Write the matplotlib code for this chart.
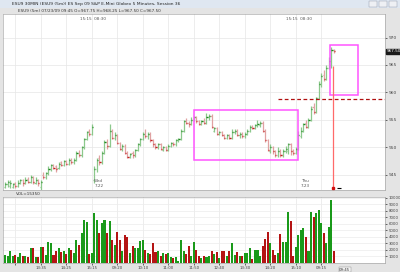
import numpy as np
import matplotlib
matplotlib.use("Agg")
import matplotlib.pyplot as plt
from matplotlib.patches import Rectangle

# --- DATA: ESU9 5 min bars, Tue 7.21 afternoon -> Thu 7.23 morning ---
opens = [942.75, 943.25, 943.0, 942.75, 943.5, 943.0, 943.5, 944.0, 943.5, 944.25,
         943.75, 944.5, 943.5, 944.0, 942.75, 945.0, 944.5, 945.25, 946.0, 946.75,
         946.5, 946.25, 947.25, 946.75, 947.5, 947.0, 947.75, 947.25, 947.75, 949.0,
         948.5, 950.0, 951.5, 953.0, 952.5,
         944.0, 946.0, 948.0, 947.25, 949.0, 951.0, 950.25, 953.0, 951.75, 952.25,
         950.75, 949.75, 950.25, 949.0, 948.25, 949.0, 948.5, 949.5, 950.5, 951.5,
         952.5, 952.0, 952.5, 951.25, 950.5, 950.0, 950.5, 949.5, 950.0, 949.5,
         950.25, 950.75, 950.5, 951.25, 951.5, 953.0, 954.75, 954.5, 954.25, 955.0,
         955.5, 954.75, 954.25, 954.75, 954.5, 955.5, 955.75, 953.0, 953.5, 952.5,
         952.75, 952.25, 951.75, 952.25, 951.75, 952.75, 953.0, 952.25, 952.5, 952.0,
         952.5, 953.0, 953.75, 953.5, 954.0, 954.0, 954.5, 953.0, 951.25, 949.25,
         950.0, 949.25, 948.5, 949.25, 948.5, 949.25, 949.25, 950.5, 949.25, 949.0,
         949.75,
         952.0, 953.0, 954.5, 953.75, 955.0, 957.25, 956.5, 959.0, 961.5, 963.25,
         962.5, 964.5, 965.0, 967.75]
highs = [943.75, 944.0, 944.0, 943.5, 943.75, 944.0, 944.25, 944.25, 944.5, 944.5,
         945.0, 944.75, 944.5, 944.25, 944.0, 945.5, 945.5, 946.5, 947.0, 947.0,
         946.75, 947.25, 947.5, 947.75, 947.75, 948.0, 948.0, 948.0, 949.25, 949.5,
         950.25, 951.75, 953.0, 953.25, 954.25,
         946.5, 948.0, 948.5, 949.25, 951.25, 951.5, 954.25, 953.25, 952.75, 952.5,
         951.0, 950.5, 950.5, 949.25, 949.0, 949.25, 949.75, 950.75, 951.75, 952.75,
         953.25, 952.75, 952.75, 951.5, 950.75, 950.75, 950.75, 950.25, 950.25, 950.5,
         951.0, 951.0, 951.5, 951.75, 953.25, 955.0, 955.25, 954.75, 955.5, 955.75,
         955.75, 955.0, 955.0, 955.25, 956.25, 956.0, 956.0, 953.75, 953.75, 953.0,
         953.0, 952.5, 952.5, 952.5, 953.25, 953.25, 953.25, 952.75, 952.75, 952.75,
         953.25, 954.0, 954.0, 954.25, 955.0, 954.75, 954.75, 953.25, 951.5, 950.5,
         950.25, 949.5, 950.0, 949.75, 949.75, 950.25, 950.75, 950.75, 949.75, 950.0,
         953.0,
         953.75, 954.5, 955.0, 955.25, 957.5, 958.0, 959.25, 962.0, 963.5, 964.0,
         965.0, 966.5, 968.25, 968.0]
lows = [942.5, 942.75, 942.5, 942.5, 942.5, 942.75, 943.25, 943.0, 943.25, 943.5,
        943.5, 943.25, 943.25, 943.0, 942.25, 944.25, 944.25, 945.0, 945.75, 946.0,
        945.5, 946.0, 946.5, 946.5, 946.75, 946.75, 947.0, 947.0, 947.5, 948.25,
        948.25, 949.75, 951.25, 952.0, 952.25,
        943.5, 945.5, 946.75, 947.0, 948.75, 949.75, 950.0, 951.5, 951.25, 950.5,
        949.5, 949.25, 948.75, 948.0, 948.0, 948.0, 948.25, 949.25, 950.25, 951.25,
        951.75, 951.5, 951.0, 950.0, 949.75, 949.75, 949.5, 949.25, 949.25, 949.25,
        950.0, 950.25, 950.25, 951.0, 951.25, 952.75, 954.25, 953.75, 954.0, 954.75,
        954.5, 954.0, 954.0, 954.25, 954.25, 955.0, 953.5, 952.75, 952.25, 952.25,
        952.0, 951.5, 951.5, 951.5, 951.5, 952.5, 952.0, 951.75, 951.75, 951.75,
        952.25, 952.75, 953.25, 953.25, 953.75, 953.75, 952.75, 951.0, 949.25, 949.0,
        948.75, 948.25, 948.25, 948.25, 948.25, 949.0, 948.75, 948.5, 948.5, 948.75,
        949.5,
        951.75, 952.75, 953.5, 953.5, 954.75, 956.0, 956.25, 958.75, 961.0, 962.0,
        962.25, 964.25, 964.5, 967.25]
closes = [943.25, 943.75, 943.5, 943.25, 943.0, 943.5, 944.0, 943.5, 944.0, 943.75,
          944.5, 943.75, 944.0, 943.5, 943.75, 944.5, 945.25, 946.0, 946.75, 946.25,
          946.0, 947.0, 946.75, 947.5, 947.0, 947.75, 947.25, 947.75, 949.0, 948.5,
          950.0, 951.5, 952.75, 952.5, 953.75,
          946.0, 947.75, 947.25, 949.0, 951.0, 950.25, 953.0, 951.75, 952.25, 950.75,
          949.75, 950.25, 949.0, 948.25, 948.75, 948.5, 949.5, 950.5, 951.5, 952.5,
          952.0, 952.5, 951.25, 950.5, 950.0, 950.5, 949.75, 950.0, 949.5, 950.25,
          950.75, 950.5, 951.25, 951.5, 953.0, 954.75, 954.5, 954.25, 955.0, 955.5,
          954.75, 954.25, 954.75, 954.5, 955.5, 955.75, 953.75, 953.5, 952.5, 952.75,
          952.25, 951.75, 952.25, 951.75, 952.75, 953.0, 952.25, 952.5, 952.0, 952.5,
          953.0, 953.75, 953.5, 954.0, 954.25, 954.5, 953.0, 951.25, 949.5, 950.0,
          949.25, 948.5, 949.25, 948.5, 949.25, 949.75, 950.5, 949.25, 949.0, 949.75,
          952.25,
          953.0, 954.25, 953.75, 955.0, 957.0, 956.5, 959.0, 961.5, 963.0, 962.5,
          964.5, 965.75, 967.75, 967.5]
volumes = [1250, 1000, 1900, 1100, 1250, 900, 1500, 1000, 1100, 900,
           2250, 2250, 900, 900, 2500, 2500, 1250, 3250, 3100, 1250,
           1900, 2250, 1750, 1900, 1400, 2250, 2000, 1500, 3600, 2750,
           4600, 6600, 6250, 1400, 1600,
           7650, 6600, 4650, 6100, 6600, 4650, 6500, 3600, 2750, 4750,
           3600, 1900, 4350, 4000, 1600, 2650, 2250, 2250, 3350, 3500,
           2000, 1600, 1400, 3100, 1750, 1900, 1000, 1600, 1400, 1600,
           900, 750, 900, 350, 3600, 1900, 1400, 2600, 1000, 3250,
           2000, 1000, 750, 1000, 900, 1000, 1850, 1400, 1750, 750,
           1900, 1850, 1000, 1900, 3100, 1250, 1750, 1100, 1000, 1500,
           1500, 2250, 650, 2000, 2000, 1000, 2600, 3750, 4750, 3000,
           2000, 1250, 1600, 4500, 3250, 3250, 7900, 6400, 1000, 2500,
           4250,
           5100, 5400, 4000, 1900, 7900, 7150, 7750, 8150, 6100, 4600,
           3100, 5500, 9650, 1900]

price_ticks = [945, 950, 955, 960, 965, 970]
vol_ticks = [1000, 2000, 3000, 4000, 5000, 6000, 7000, 8000, 9000, 10000]
time_pos = [4, 14, 24, 34, 44, 54, 64, 74, 84, 94, 104, 114, 124]
time_labels = ["", "13:35", "14:25", "15:15", "09:20", "10:10", "11:00",
               "11:50", "12:40", "13:30", "14:20", "15:10", "09:15"]
day_pos = [35, 116]
day_labels = ["Wed\n7.22", "Thu\n7.23"]

# boxes / levels drawn on the chart (bar index, price)
box1 = (74, 115, 947.6, 956.7)
box2 = (127.5, 138.4, 959.6, 968.7)
level = 958.75
sell_line = (128.5, 942.3, 964.9)

x = np.arange(len(closes))
o = np.array(opens); h = np.array(highs); l = np.array(lows); c = np.array(closes)
up = c >= o

fig = plt.figure(figsize=(4, 2.72), dpi=100)
fig.patch.set_facecolor("#e4e4e4")

# title strip + window buttons
fig.patches.append(Rectangle((0, 1 - 7.5 / 272), 1, 7.5 / 272, transform=fig.transFigure,
                             facecolor="#dfe7f1", edgecolor="none"))
for bx in [369, 379, 389]:
    fig.patches.append(Rectangle((bx / 400, 1 - 6.5 / 272), 8 / 400, 5.5 / 272,
                                 transform=fig.transFigure, facecolor="#eef0f4",
                                 edgecolor="#8a94a6", lw=0.3))
fig.text(0.03, 1 - 4 / 272, "ESU9 30MIN (ESU9 (5m)) ES Sep 09 S&P E-Mini Globex 5 Minutes, Session 36",
         fontsize=3.2, va="center", color="#222")
fig.text(0.045, 1 - 11 / 272, "ESU9 (5m) 07/23/09 09:45 O=967.75 H=968.25 L=967.50 C=967.50",
         fontsize=3.0, va="center", color="#333")

# --- PRICE PANEL ---
ax = fig.add_axes([3 / 400, 1 - 190 / 272, 382 / 400, 176 / 272])
ax.set_facecolor("white")
ax.set_xlim(-0.8, 149)
ax.set_ylim(942.2, 974.3)
for t in time_pos:
    ax.axvline(t, color="#e6e6e6", lw=0.5, zorder=0)
for p in price_ticks:
    ax.axhline(p, color="#e6e6e6", lw=0.5, zorder=0)

light = np.where(up, "#8cc88c", "#e0a2a2")
dark = np.where(up, "#1f8a1f", "#c62020")
ax.vlines(x, l, h, colors=light, lw=0.9, zorder=2)
ax.hlines(o, x - 0.45, x, colors=light, lw=0.9, zorder=2)
ax.hlines(c, x, x + 0.45, colors=dark, lw=1.0, zorder=3)

ax.add_patch(Rectangle((box1[0], box1[2]), box1[1] - box1[0], box1[3] - box1[2],
                       fill=False, edgecolor="#ff55ff", lw=1.1, zorder=4))
ax.add_patch(Rectangle((box2[0], box2[2]), box2[1] - box2[0], box2[3] - box2[2],
                       fill=False, edgecolor="#ff55ff", lw=1.1, zorder=4))
ax.hlines(level, 107, 149, colors="#b01010", lw=0.9, linestyles=(0, (3, 2)), zorder=4)
ax.vlines(sell_line[0], sell_line[1], sell_line[2], colors="#ff6a6a", lw=0.9, zorder=4)
ax.plot([sell_line[0]], [942.6], marker="s", ms=1.6, color="#d01010", zorder=5)
ax.hlines(942.5, 130.2, 131.6, colors="black", lw=0.8, zorder=5)

ax.yaxis.tick_right()
ax.set_yticks(price_ticks)
ax.set_yticklabels([str(p) for p in price_ticks], fontsize=3.2, color="#444")
ax.tick_params(axis="y", length=1.5, width=0.4, pad=1)
ax.set_xticks([])
for s in ax.spines.values():
    s.set_linewidth(0.4)
    s.set_color("#999")
for pos, lab in zip(day_pos, day_labels):
    ax.text(pos, 942.6, lab, fontsize=3.0, color="#555", va="bottom", ha="left")
for pos in [34.3, 115.3]:
    ax.text(pos, 973.8, "15:15  08:30", fontsize=3.0, color="#555", va="top", ha="center")
ax.text(149.5, closes[-1], "967.50", fontsize=3.0, color="white", va="center", ha="left",
        clip_on=False, bbox=dict(boxstyle="square,pad=0.15", fc="#1a1a1a", ec="#1a1a1a"))

# separator label
fig.text(0.04, 1 - 194 / 272, "VOL=15350", fontsize=3.0, va="center", color="#333")

# --- VOLUME PANEL ---
vx = fig.add_axes([3 / 400, 1 - 263 / 272, 382 / 400, 66 / 272])
vx.set_facecolor("white")
vx.set_xlim(-0.8, 149)
vx.set_ylim(0, 10150)
for t in time_pos:
    vx.axvline(t, color="#e6e6e6", lw=0.5, zorder=0)
for v in vol_ticks:
    vx.axhline(v, color="#ececec", lw=0.5, zorder=0)
vcol = np.where(up, "#1a9a1a", "#b41414")
vx.bar(x, volumes, width=0.8, color=vcol, zorder=2)
vx.yaxis.tick_right()
vx.set_yticks(vol_ticks)
vx.set_yticklabels([str(v) for v in vol_ticks], fontsize=2.8, color="#444")
vx.tick_params(axis="y", length=1.5, width=0.4, pad=1)
vx.set_xticks(time_pos)
vx.set_xticklabels(time_labels, fontsize=2.8, color="#444")
vx.tick_params(axis="x", length=1.5, width=0.4, pad=1)
vx.text(131, -700, "09:45", fontsize=2.8, color="#333", va="top", ha="left", clip_on=False,
        bbox=dict(boxstyle="square,pad=0.1", fc="#f4f4f4", ec="#888", lw=0.3))
for s in vx.spines.values():
    s.set_linewidth(0.4)
    s.set_color("#999")

fig.savefig("out.png", dpi=100, facecolor=fig.get_facecolor())
